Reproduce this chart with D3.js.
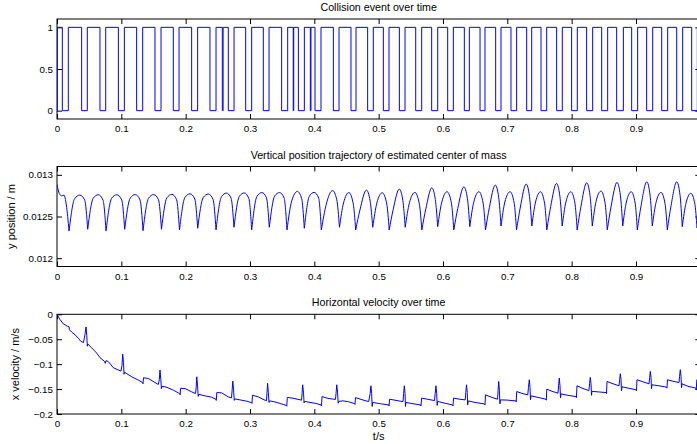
<!DOCTYPE html>
<html><head><meta charset="utf-8">
<script src="https://cdn.jsdelivr.net/npm/d3@7"></script>
<style>
body{margin:0;background:#fff}
svg{display:block}
text{font-family:"Liberation Sans",Arial,Helvetica,sans-serif;fill:#000}
</style>
</head><body>
<svg id="chart" width="697" height="444"></svg>
<script>
// ---------- DATA ----------
const titles = ["Collision event over time",
  "Vertical position trajectory of estimated center of mass",
  "Horizontal velocity over time"];
const yLabels = ["", "y position / m", "x velocity / m/s"];
const xLabel = "t/s";

const xTicks = [0,0.1,0.2,0.3,0.4,0.5,0.6,0.7,0.8,0.9,1.0];
const xTickLabels = ["0","0.1","0.2","0.3","0.4","0.5","0.6","0.7","0.8","0.9",""];

const collYTicks = [0,0.5,1];
const collYLabels = ["0","0.5","1"];
const posYTicks = [0.012,0.0125,0.013];
const posYLabels = ["0.012","0.0125","0.013"];
const velYTicks = [-0.2,-0.15,-0.1,-0.05,0];
const velYLabels = ["\u22120.2","\u22120.15","\u22120.1","\u22120.05","0"];

// collision flag: transition times and the state after each transition
const collisionTimes = [0,0.0005,0.0083,0.0176,0.0383,0.0471,0.0668,0.0757,0.0954,0.1047,
  0.1238,0.1332,0.1523,0.1617,0.1808,0.1897,0.2093,0.2186,0.2378,0.2472,
  0.2570,0.2582,0.2663,0.2752,0.2933,0.3026,0.3207,0.3296,0.3492,0.3586,
  0.3672,0.3680,0.3752,0.3845,0.3938,0.3948,0.4011,0.4104,0.4296,0.4384,
  0.4570,0.4648,0.4829,0.4917,0.5073,0.5161,0.5322,0.5410,0.5576,0.5669,
  0.5824,0.5918,0.6073,0.6161,0.6332,0.6410,0.6576,0.6653,0.6819,0.6902,
  0.7057,0.7145,0.7301,0.7379,0.7524,0.7612,0.7767,0.7855,0.8000,0.8088,
  0.8233,0.8327,0.8467,0.8560,0.8700,0.8804,0.8933,0.9026,0.9166,0.9260,
  0.9400,0.9493,0.9633,0.9726,0.9866,0.9954,1.0];
const collisionStates = [0,1,0,1,0,1,0,1,0,1,
  0,1,0,1,0,1,0,1,0,1,
  0,1,0,1,0,1,0,1,0,1,
  0,1,0,1,0,1,0,1,0,1,
  0,1,0,1,0,1,0,1,0,1,
  0,1,0,1,0,1,0,1,0,1,
  0,1,0,1,0,1,0,1,0,1,
  0,1,0,1,0,1,0,1,0,1,
  0,1,0,1,0,1,1];

// vertical COM position: vertices (dips, shoulders, peaks)
const posT = [0,0.0036,0.0073,0.0109,0.0145,
  0.0187,0.0274,0.0355,0.0431,
  0.0477,0.0563,0.0642,0.0716,
  0.0762,0.0849,0.0930,0.1006,
  0.1052,0.1138,0.1217,0.1291,
  0.1337,0.1423,0.1503,0.1578,
  0.1624,0.1708,0.1786,0.1859,
  0.1904,0.1989,0.2068,0.2142,
  0.2187,0.2273,0.2352,0.2426,
  0.2472,0.2556,0.2634,0.2706,
  0.2751,0.2834,0.2911,0.2982,
  0.3026,0.3108,0.3185,0.3256,
  0.3300,0.3383,0.3460,0.3531,
  0.3575,0.3648,0.3736,0.3804,
  0.3844,0.3924,0.3998,0.4067,
  0.4109,0.4185,0.4284,0.4349,
  0.4391,0.4454,0.4537,0.4605,
  0.4643,0.4709,0.4810,0.4868,
  0.4908,0.4972,0.5056,0.5126,
  0.5164,0.5226,0.5321,0.5376,
  0.5413,0.5478,0.5563,0.5632,
  0.5671,0.5733,0.5827,0.5881,
  0.5918,0.5981,0.6063,0.6131,
  0.6168,0.6230,0.6325,0.6380,
  0.6417,0.6478,0.6559,0.6624,
  0.6661,0.6721,0.6813,0.6866,
  0.6902,0.6962,0.7042,0.7107,
  0.7143,0.7203,0.7293,0.7345,
  0.7381,0.7439,0.7516,0.7579,
  0.7614,0.7674,0.7765,0.7817,
  0.7853,0.7911,0.7988,0.8051,
  0.8086,0.8145,0.8234,0.8286,
  0.8321,0.8379,0.8456,0.8519,
  0.8554,0.8614,0.8705,0.8758,
  0.8794,0.8851,0.8926,0.8987,
  0.9021,0.9079,0.9168,0.9219,
  0.9254,0.9312,0.9389,0.9452,
  0.9487,0.9545,0.9634,0.9685,
  0.9720,0.9777,0.9853,0.9915,
  0.9949,1.0];
const posY = [0.012885,0.012775,0.012748,0.012757,0.012638,
  0.012327,0.012714,0.012757,0.012696,
  0.012347,0.012720,0.012761,0.012696,
  0.012327,0.012718,0.012761,0.012699,
  0.012347,0.012721,0.012763,0.012698,
  0.012330,0.012720,0.012763,0.012701,
  0.012347,0.012724,0.012766,0.012702,
  0.012339,0.012729,0.012772,0.012710,
  0.012359,0.012728,0.012769,0.012705,
  0.012339,0.012737,0.012781,0.012720,
  0.012371,0.012742,0.012783,0.012716,
  0.012339,0.012742,0.012787,0.012725,
  0.012371,0.012745,0.012787,0.012720,
  0.012339,0.012685,0.012801,0.012713,
  0.012359,0.012746,0.012789,0.012722,
  0.012339,0.012646,0.012811,0.012701,
  0.012371,0.012662,0.012787,0.012653,
  0.012339,0.012578,0.012817,0.012683,
  0.012371,0.012661,0.012785,0.012651,
  0.012339,0.012584,0.012829,0.012692,
  0.012371,0.012664,0.012789,0.012654,
  0.012339,0.012591,0.012844,0.012704,
  0.012378,0.012671,0.012797,0.012660,
  0.012339,0.012597,0.012856,0.012713,
  0.012378,0.012671,0.012797,0.012660,
  0.012339,0.012608,0.012877,0.012730,
  0.012386,0.012674,0.012797,0.012660,
  0.012339,0.012614,0.012889,0.012738,
  0.012386,0.012674,0.012797,0.012660,
  0.012339,0.012618,0.012897,0.012744,
  0.012386,0.012674,0.012797,0.012660,
  0.012339,0.012622,0.012904,0.012749,
  0.012386,0.012679,0.012805,0.012665,
  0.012339,0.012624,0.012909,0.012752,
  0.012386,0.012674,0.012797,0.012660,
  0.012339,0.012628,0.012916,0.012757,
  0.012386,0.012668,0.012789,0.012654,
  0.012339,0.012628,0.012916,0.012755,
  0.012378,0.012658,0.012778,0.012653,
  0.012362,0.012560];

// horizontal velocity: vertices
const velT = [0,0.0047,0.0098,0.0166,0.0187,0.0193,0.0229,0.0280,0.0331,0.0373,0.0412,
  0.0435,0.0451,0.0463,0.0471,0.0479,0.0539,0.0617,0.0668,0.0738,
  0.0751,0.0762,0.0797,0.0875,0.0953,0.0995,
  0.1010,0.1021,0.1034,0.1042,0.1049,0.1161,0.1264,0.1329,
  0.1337,0.1345,0.1419,0.1523,0.1575,
  0.1590,0.1601,0.1614,0.1623,0.1632,0.1710,0.1808,0.1886,0.1906,
  0.1914,0.1921,0.1990,0.2094,0.2153,
  0.2164,0.2173,0.2186,0.2195,0.2204,0.2301,0.2405,0.2469,
  0.2476,0.2484,0.2560,0.2663,0.2713,
  0.2723,0.2733,0.2745,0.2755,0.2764,0.2845,0.2949,0.3024,
  0.3031,0.3039,0.3129,0.3233,0.3257,
  0.3264,0.3274,0.3286,0.3296,0.3305,0.3389,0.3467,0.3564,
  0.3572,0.3580,0.3669,0.3801,
  0.3810,0.3819,0.3832,0.3841,0.3851,0.3933,0.4026,0.4104,
  0.4112,0.4119,0.4213,0.4329,
  0.4340,0.4349,0.4362,0.4371,0.4381,0.4446,0.4528,0.4625,
  0.4632,0.4640,0.4741,0.4845,
  0.4868,0.4880,0.4891,0.4899,0.4906,0.5030,0.5156,
  0.5162,0.5170,0.5270,0.5379,
  0.5388,0.5399,0.5410,0.5417,0.5425,0.5534,0.5651,
  0.5658,0.5668,0.5767,0.5868,
  0.5879,0.5891,0.5902,0.5910,0.5917,0.6031,0.6148,
  0.6156,0.6165,0.6249,0.6345,
  0.6355,0.6366,0.6377,0.6384,0.6392,0.6498,0.6645,
  0.6653,0.6661,0.6762,0.6848,
  0.6857,0.6866,0.6877,0.6885,0.6893,0.6996,0.7132,
  0.7138,0.7146,0.7228,0.7318,
  0.7329,0.7342,0.7353,0.7360,0.7368,0.7477,0.7598,
  0.7606,0.7614,0.7695,0.7788,
  0.7797,0.7808,0.7819,0.7827,0.7834,0.7943,0.8068,
  0.8075,0.8083,0.8176,0.8269,
  0.8279,0.8290,0.8301,0.8309,0.8316,0.8410,0.8534,
  0.8542,0.8550,0.8643,0.8737,
  0.8746,0.8757,0.8768,0.8775,0.8783,0.8892,0.9001,
  0.9008,0.9016,0.9109,0.9203,
  0.9212,0.9223,0.9234,0.9241,0.9249,0.9358,0.9474,
  0.9482,0.9490,0.9575,0.9669,
  0.9678,0.9689,0.9700,0.9708,0.9716,0.9809,0.9930,
  0.9938,0.9946,1.0];
const velV = [0,-0.0107,-0.0192,-0.0242,-0.0248,-0.0309,-0.0358,-0.0410,-0.0479,-0.0545,-0.0566,
  -0.0404,-0.0253,-0.0424,-0.0640,-0.0596,-0.0673,-0.0778,-0.0869,-0.0943,
  -0.0984,-0.0929,-0.0949,-0.1071,-0.1117,-0.1137,
  -0.1030,-0.0798,-0.0970,-0.1202,-0.1162,-0.1253,-0.1319,-0.1368,
  -0.1394,-0.1273,-0.1287,-0.1368,-0.1408,
  -0.1313,-0.1117,-0.1313,-0.1495,-0.1444,-0.1465,-0.1521,-0.1576,-0.1590,
  -0.1616,-0.1485,-0.1489,-0.1556,-0.1590,
  -0.1455,-0.1253,-0.1455,-0.1646,-0.1606,-0.1636,-0.1663,-0.1703,
  -0.1727,-0.1570,-0.1576,-0.1657,-0.1677,
  -0.1515,-0.1339,-0.1515,-0.1727,-0.1697,-0.1717,-0.1743,-0.1772,
  -0.1788,-0.1622,-0.1657,-0.1723,-0.1733,
  -0.1576,-0.1384,-0.1576,-0.1768,-0.1737,-0.1758,-0.1788,-0.1828,
  -0.1844,-0.1667,-0.1683,-0.1723,
  -0.1576,-0.1414,-0.1576,-0.1778,-0.1747,-0.1768,-0.1788,-0.1818,
  -0.1838,-0.1650,-0.1687,-0.1707,
  -0.1556,-0.1414,-0.1576,-0.1784,-0.1747,-0.1737,-0.1752,-0.1792,
  -0.1808,-0.1671,-0.1713,-0.1752,
  -0.1588,-0.1434,-0.1588,-0.1848,-0.1768,-0.1794,-0.1818,
  -0.1838,-0.1703,-0.1727,-0.1752,
  -0.1588,-0.1434,-0.1588,-0.1848,-0.1768,-0.1794,-0.1818,
  -0.1838,-0.1681,-0.1705,-0.1731,
  -0.1586,-0.1434,-0.1586,-0.1828,-0.1747,-0.1784,-0.1818,
  -0.1838,-0.1681,-0.1701,-0.1717,
  -0.1566,-0.1414,-0.1566,-0.1818,-0.1737,-0.1768,-0.1798,
  -0.1818,-0.1616,-0.1667,-0.1703,
  -0.1525,-0.1347,-0.1525,-0.1798,-0.1717,-0.1721,-0.1737,
  -0.1758,-0.1549,-0.1586,-0.1616,
  -0.1465,-0.1313,-0.1465,-0.1717,-0.1636,-0.1667,-0.1703,
  -0.1723,-0.1501,-0.1545,-0.1582,
  -0.1434,-0.1279,-0.1434,-0.1677,-0.1596,-0.1626,-0.1650,
  -0.1671,-0.1434,-0.1489,-0.1529,
  -0.1394,-0.1267,-0.1394,-0.1626,-0.1545,-0.1556,-0.1570,
  -0.1590,-0.1347,-0.1394,-0.1434,
  -0.1313,-0.1192,-0.1313,-0.1535,-0.1455,-0.1485,-0.1515,
  -0.1535,-0.1313,-0.1354,-0.1394,
  -0.1273,-0.1145,-0.1273,-0.1495,-0.1414,-0.1434,-0.1461,
  -0.1481,-0.1313,-0.1343,-0.1368,
  -0.1242,-0.1111,-0.1242,-0.1475,-0.1394,-0.1444,-0.1481,
  -0.1501,-0.1313,-0.1343];

// ---------- DRAWING ----------
const svg = d3.select("#chart");
const L = 57, R = 700.3;
const x = d3.scaleLinear().domain([0, 1]).range([L, R]);
const TICK_FONT = 9.8, TITLE_FONT = 10.7, LABEL_FONT = 11;
const BLUE = "#0000ff";

const panels = [
  {top: 19,    bottom: 119, domain: [-0.1, 1.1],       ticks: collYTicks, labels: collYLabels},
  {top: 166.5, bottom: 266.5, domain: [0.0119, 0.0131], ticks: posYTicks,  labels: posYLabels},
  {top: 314.3, bottom: 414, domain: [-0.2, 0],          ticks: velYTicks,  labels: velYLabels}
];

panels.forEach((p, i) => {
  p.y = d3.scaleLinear().domain(p.domain).range([p.bottom, p.top]);
  const g = svg.append("g");
  svg.append("clipPath").attr("id", "clip" + i).append("rect")
    .attr("x", L).attr("y", p.top).attr("width", R - L).attr("height", p.bottom - p.top);

  // axes (inward ticks on all four sides)
  const styleAxis = sel => {
    sel.select(".domain").remove();
    sel.selectAll(".tick line").attr("stroke", "#000").attr("stroke-width", 1);
    sel.selectAll("text").attr("font-size", TICK_FONT)
      .attr("font-family", '"Liberation Sans", Arial, sans-serif').attr("fill", "#000");
  };
  g.append("g").attr("transform", `translate(0,${p.bottom})`)
    .call(d3.axisBottom(x).tickValues(xTicks).tickSize(-5).tickPadding(6.5)
      .tickFormat((d, k) => xTickLabels[k]))
    .call(styleAxis);
  g.append("g").attr("transform", `translate(0,${p.top})`)
    .call(d3.axisTop(x).tickValues(xTicks).tickSize(-5).tickFormat(""))
    .call(styleAxis);
  g.append("g").attr("transform", `translate(${L},0)`)
    .call(d3.axisLeft(p.y).tickValues(p.ticks).tickSize(-5).tickPadding(4)
      .tickFormat((d, k) => p.labels[k]))
    .call(styleAxis);
  g.append("g").attr("transform", `translate(${R},0)`)
    .call(d3.axisRight(p.y).tickValues(p.ticks).tickSize(-5).tickFormat(""))
    .call(styleAxis);

  // frame
  g.append("rect").attr("x", L).attr("y", p.top).attr("width", R - L)
    .attr("height", p.bottom - p.top).attr("fill", "none")
    .attr("stroke", "#000").attr("stroke-width", 1);

  // title
  svg.append("text").attr("x", (L + R) / 2).attr("y", p.top - 8)
    .attr("text-anchor", "middle").attr("font-size", TITLE_FONT).text(titles[i]);
  if (yLabels[i]) {
    svg.append("text")
      .attr("transform", `translate(${i === 1 ? 15 : 18.5},${(p.top + p.bottom) / 2}) rotate(-90)`)
      .attr("text-anchor", "middle").attr("font-size", LABEL_FONT).text(yLabels[i]);
  }
  p.g = svg.append("g").attr("clip-path", `url(#clip${i})`);
});

// panel 1: collision flag (step)
const collPts = collisionTimes.map((t, k) => [t, collisionStates[k]]);
panels[0].g.append("path")
  .attr("d", d3.line().x(d => x(d[0])).y(d => panels[0].y(d[1])).curve(d3.curveStepAfter)(collPts))
  .attr("fill", "none").attr("stroke", BLUE).attr("stroke-width", 1);

// panel 2: vertical position (arcs between cusp-like dips)
const posPts = posT.map((t, k) => [t, posY[k]]);
const segs = [];
let cur = [posPts[0]];
for (let k = 1; k < posPts.length; k++) {
  cur.push(posPts[k]);
  const isDip = k < posPts.length - 1 && posPts[k][1] < 0.0125 &&
    posPts[k][1] < posPts[k - 1][1] && posPts[k][1] < posPts[k + 1][1];
  if (isDip) { segs.push(cur); cur = [posPts[k]]; }
}
segs.push(cur);
const posLine = d3.line().x(d => x(d[0])).y(d => panels[1].y(d[1])).curve(d3.curveMonotoneX);
panels[1].g.append("path").attr("d", segs.map(s => posLine(s)).join(""))
  .attr("fill", "none").attr("stroke", BLUE).attr("stroke-width", 1)
  .attr("stroke-linejoin", "round");

// panel 3: horizontal velocity
const velPts = velT.map((t, k) => [t, velV[k]]);
panels[2].g.append("path")
  .attr("d", d3.line().x(d => x(d[0])).y(d => panels[2].y(d[1]))(velPts))
  .attr("fill", "none").attr("stroke", BLUE).attr("stroke-width", 1)
  .attr("stroke-linejoin", "round");

// x label
svg.append("text").attr("x", x(0.5)).attr("y", 440).attr("text-anchor", "middle")
  .attr("font-size", LABEL_FONT).text(xLabel);

if (posT.length !== posY.length || velT.length !== velV.length || collisionTimes.length !== collisionStates.length)
  console.error("length mismatch", posT.length, posY.length, velT.length, velV.length, collisionTimes.length, collisionStates.length);
</script>
</body></html>
